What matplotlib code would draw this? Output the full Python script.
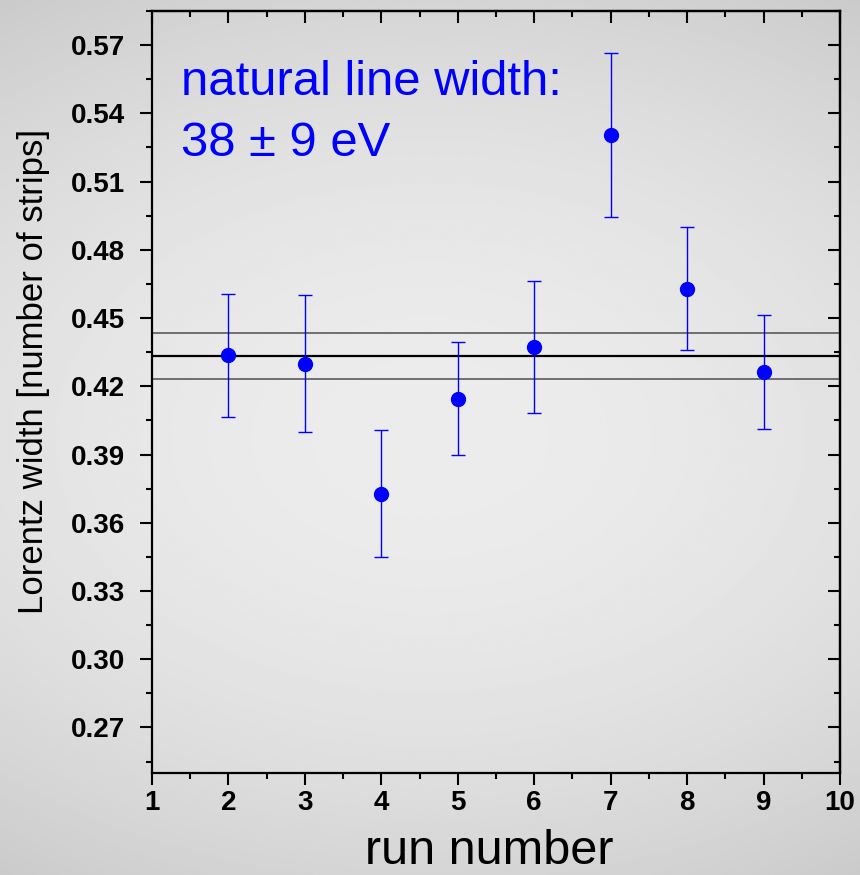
import numpy as np
import matplotlib
matplotlib.use("Agg")
import matplotlib.pyplot as plt
from matplotlib.ticker import MultipleLocator, FormatStrFormatter

runs = [2, 3, 4, 5, 6, 7, 8, 9]
width = [0.4336, 0.4300, 0.3728, 0.4146, 0.4372, 0.5304, 0.4630, 0.4263]
err = [0.027, 0.030, 0.028, 0.025, 0.029, 0.036, 0.027, 0.025]
mean_width = 0.4333
mean_err = 0.0101

plt.rcParams["font.family"] = ["Liberation Sans", "DejaVu Sans"]

fig = plt.figure(figsize=(8.6, 8.75), dpi=100)

# gray gradient background, lighter in the middle
bg = fig.add_axes([0, 0, 1, 1], zorder=-10)
yy, xx = np.mgrid[-1:1:300j, -1:1:300j]
shade = 0.925 - 0.09 * yy ** 2 - 0.04 * xx ** 2
bg.imshow(shade, cmap="gray", vmin=0, vmax=1, aspect="auto", extent=[0, 1, 0, 1])
bg.axis("off")

ax = fig.add_axes([0.1767, 0.1166, 0.8, 0.8708])
ax.set_facecolor("none")

ax.axhline(mean_width, color="black", lw=1.6, zorder=2)
ax.axhline(mean_width + mean_err, color="#5a5a5a", lw=1.2, zorder=2)
ax.axhline(mean_width - mean_err, color="#5a5a5a", lw=1.2, zorder=2)

ax.errorbar(runs, width, yerr=err, fmt="o", color="blue", ecolor="blue",
            markersize=10, elinewidth=1.0, capsize=5, capthick=1.0, zorder=3)

ax.text(0.0422, 0.8898, "natural line width:", transform=ax.transAxes,
        color="blue", fontsize=35.3, va="baseline", ha="left")
ax.text(0.0422, 0.8097, "38 \u00b1 9 eV", transform=ax.transAxes,
        color="blue", fontsize=35.3, va="baseline", ha="left")

ax.set_xlim(1, 10)
ax.set_ylim(0.25, 0.585)
ax.xaxis.set_major_locator(MultipleLocator(1))
ax.xaxis.set_minor_locator(MultipleLocator(0.5))
ax.set_yticks(np.arange(0.27, 0.571, 0.03))
ax.yaxis.set_minor_locator(MultipleLocator(0.015))
ax.yaxis.set_major_formatter(FormatStrFormatter("%.2f"))

for s in ax.spines.values():
    s.set_linewidth(1.6)
ax.tick_params(which="both", direction="out", width=1.5, labelsize=20)
ax.tick_params(which="major", length=8.5)
ax.tick_params(which="minor", length=4.3)
ax.tick_params(axis="y", pad=11)
ax.tick_params(axis="x", pad=4)
for lbl in ax.get_xticklabels() + ax.get_yticklabels():
    lbl.set_fontweight("bold")

# mirrored inward ticks on top and right
top = ax.secondary_xaxis("top")
top.xaxis.set_major_locator(MultipleLocator(1))
top.xaxis.set_minor_locator(MultipleLocator(0.5))
right = ax.secondary_yaxis("right")
right.set_yticks(np.arange(0.27, 0.571, 0.03))
right.yaxis.set_minor_locator(MultipleLocator(0.015))
for sec in (top, right):
    sec.tick_params(which="both", direction="in", width=1.5, labelleft=False,
                    labelright=False, labeltop=False, labelbottom=False)
    sec.tick_params(which="major", length=8.5)
    sec.tick_params(which="minor", length=4.3)
    for s in sec.spines.values():
        s.set_linewidth(1.6)

ax.set_xlabel("run number", fontsize=35, labelpad=9)
ax.set_ylabel("Lorentz width [number of strips]", fontsize=25, labelpad=15)
ax.xaxis.label.set_x(0.49)
ax.yaxis.label.set_y(0.527)

fig.savefig("out.png", dpi=100)
